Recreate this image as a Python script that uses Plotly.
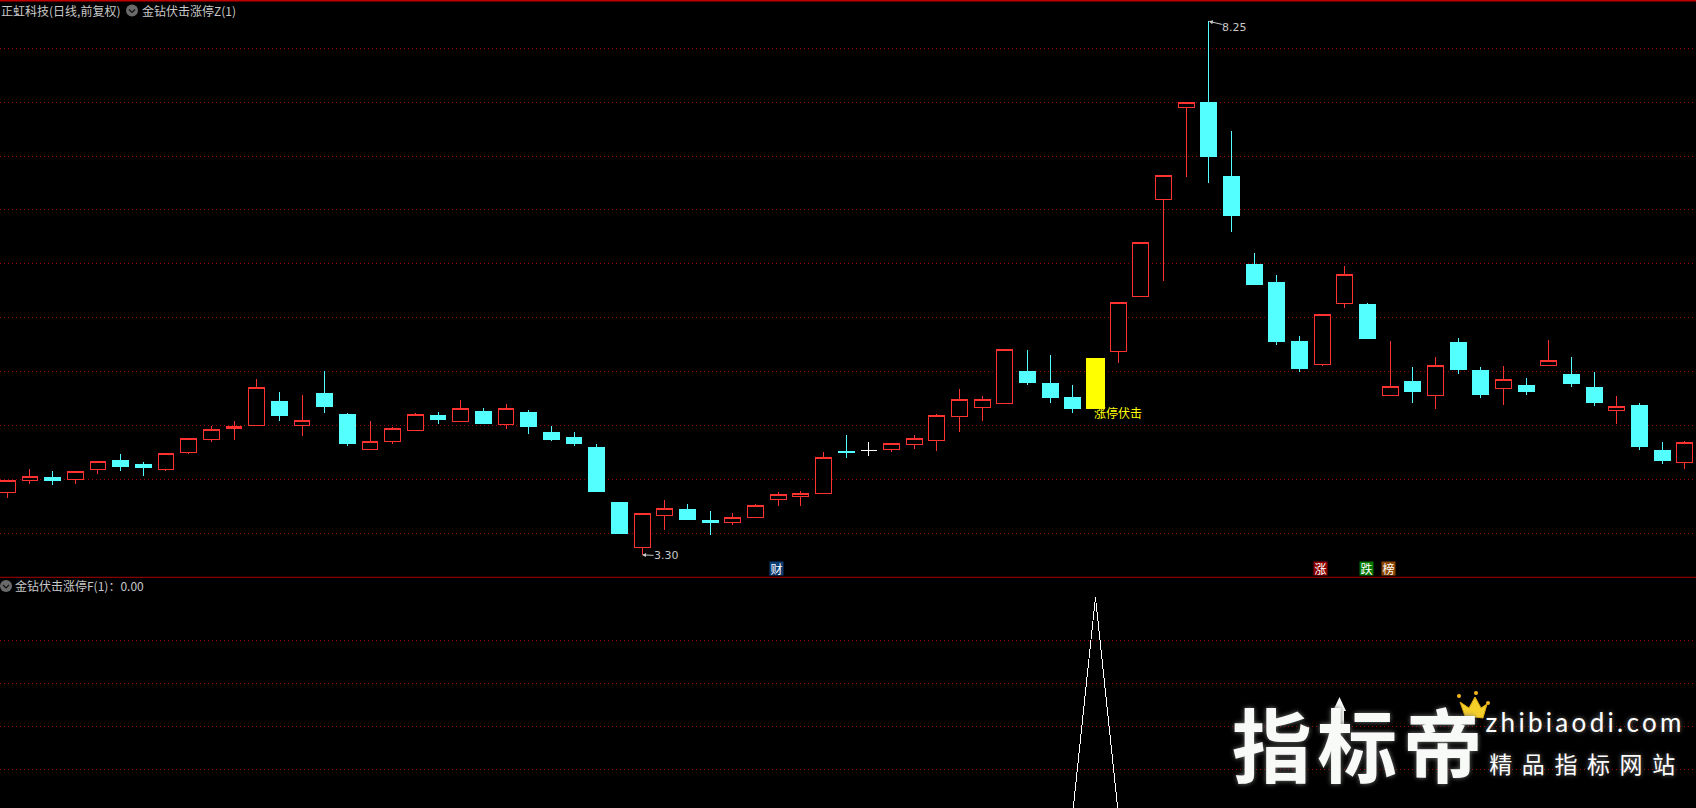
import plotly.graph_objects as go

W, H = 1696, 808
days = list(range(75))
opens = [3.88,3.99,4.02,4.00,4.09,4.18,4.14,4.09,4.25,4.37,
         4.47,4.50,4.72,4.50,4.80,4.60,4.28,4.35,4.45,4.59,
         4.54,4.63,4.51,4.62,4.44,4.39,4.30,3.79,3.37,3.67,
         3.72,3.62,3.60,3.65,3.81,3.84,3.87,4.26,4.27,4.28,
         4.32,4.36,4.58,4.67,4.70,5.00,4.89,4.76,4.65,5.19,
         5.70,6.60,7.45,7.50,6.81,5.99,5.83,5.28,5.07,5.63,
         5.62,4.78,4.91,4.78,5.27,5.01,4.84,4.87,5.06,4.97,
         4.85,4.64,4.69,4.27,4.16]
highs = [3.99,4.10,4.08,4.07,4.17,4.24,4.16,4.24,4.38,4.50,
         4.54,4.93,4.81,4.78,5.01,4.62,4.54,4.49,4.62,4.63,
         4.74,4.66,4.70,4.64,4.50,4.44,4.33,3.79,3.69,3.81,
         3.77,3.71,3.69,3.77,3.88,3.89,4.25,4.41,4.35,4.34,
         4.41,4.61,4.84,4.77,5.21,5.20,5.15,4.88,5.13,5.64,
         6.20,6.82,7.50,8.25,7.23,6.10,5.90,5.33,5.53,5.98,
         5.64,5.28,5.04,5.14,5.31,5.04,5.05,4.94,5.29,5.14,
         5.00,4.77,4.71,4.35,4.36]
lows = [3.83,3.96,3.95,3.96,4.05,4.08,4.03,4.08,4.24,4.35,
        4.37,4.50,4.54,4.40,4.62,4.31,4.28,4.33,4.45,4.51,
        4.53,4.51,4.47,4.42,4.36,4.31,3.89,3.50,3.30,3.53,
        3.62,3.48,3.58,3.65,3.75,3.75,3.87,4.20,4.22,4.25,
        4.28,4.26,4.44,4.54,4.70,4.88,4.71,4.62,4.65,5.08,
        5.70,5.84,6.81,6.75,6.30,5.81,5.25,5.00,5.05,5.59,
        5.31,4.78,4.71,4.65,4.98,4.76,4.69,4.78,5.06,4.86,
        4.68,4.51,4.27,4.14,4.10]
closes = [3.99,4.03,3.99,4.07,4.17,4.12,4.11,4.24,4.38,4.46,
          4.49,4.85,4.59,4.55,4.68,4.33,4.35,4.47,4.60,4.56,
          4.66,4.52,4.66,4.49,4.37,4.33,3.89,3.50,3.68,3.73,
          3.63,3.60,3.65,3.76,3.86,3.87,4.20,4.25,4.27,4.33,
          4.38,4.59,4.74,4.74,5.21,4.90,4.76,4.66,5.13,5.64,
          6.20,6.82,7.50,7.00,6.45,5.81,5.28,5.03,5.53,5.90,
          5.31,4.86,4.82,5.06,5.02,4.79,4.93,4.82,5.10,4.89,
          4.71,4.68,4.31,4.18,4.34]
signal = [0,0,0,0,0,0,0,0,0,0, 0,0,0,0,0,0,0,0,0,0,
          0,0,0,0,0,0,0,0,0,0, 0,0,0,0,0,0,0,0,0,0,
          0,0,0,0,0,0,0,0,1,0, 0,0,0,0,0,0,0,0,0,0,
          0,0,0,0,0,0,0,0,0,0, 0,0,0,0,0]
grid_prices = [3.5,4.0,4.5,5.0,5.5,6.0,6.5,7.0,7.5,8.0]
grid_signal = [0.2,0.4,0.6,0.8]
doji_day, limit_day = 38, 48
news_tags = [(34,"财","#0b3c73"),(58,"涨","#8c0000"),(60,"跌","#007800"),(61,"榜","#8a4500")]
title_main = "正虹科技(日线,前复权)"
title_ind = "金钻伏击涨停Z(1)"
title_sub = "金钻伏击涨停F(1)：0.00"
signal_label = "涨停伏击"

RED, CYAN, GRID, TXT = "#ff3232", "#54ffff", "#a00000", "#c8c8c8"
FONT = "Noto Sans CJK SC"
px = lambda v: v / W
py = lambda v: 1 - v / H

idx = [d for d in days if d not in (doji_day, limit_day)]
fig = go.Figure()
fig.add_trace(go.Candlestick(
    x=idx, open=[opens[d] for d in idx], high=[highs[d] for d in idx],
    low=[lows[d] for d in idx], close=[closes[d] for d in idx],
    whiskerwidth=0, hoverinfo="skip",
    increasing=dict(line=dict(color=RED, width=1), fillcolor="#000000"),
    decreasing=dict(line=dict(color=CYAN, width=1), fillcolor=CYAN)))
fig.add_trace(go.Candlestick(
    x=[doji_day], open=[opens[doji_day]], high=[highs[doji_day]],
    low=[lows[doji_day]], close=[closes[doji_day]],
    whiskerwidth=0, hoverinfo="skip",
    increasing=dict(line=dict(color="#ffffff", width=1), fillcolor="#ffffff"),
    decreasing=dict(line=dict(color="#ffffff", width=1), fillcolor="#ffffff")))
fig.add_trace(go.Bar(x=[limit_day], y=[closes[limit_day]-opens[limit_day]], base=[opens[limit_day]],
                     width=0.84, marker=dict(color="#ffff00", line=dict(width=0)), hoverinfo="skip"))
fig.add_trace(go.Scatter(x=days, y=signal, mode="lines", line=dict(color="#ffffff", width=1),
                         xaxis="x2", yaxis="y2", hoverinfo="skip"))

xr = [-0.322, 74.49]
sep = 577.3
ax_common = dict(showticklabels=False, ticks="", showline=False, zeroline=False,
                 showgrid=True, gridcolor=GRID, gridwidth=1, griddash="1px,3px")
fig.update_layout(
    width=W, height=H, margin=dict(l=0, r=0, t=0, b=0),
    paper_bgcolor="#000000", plot_bgcolor="#000000", showlegend=False,
    boxgap=0.3, boxgroupgap=0, bargap=0, hovermode=False,
    xaxis=dict(domain=[0, 1], range=xr, visible=False, rangeslider=dict(visible=False), anchor="y"),
    xaxis2=dict(domain=[0, 1], range=xr, visible=False, anchor="y2"),
    yaxis=dict(domain=[py(sep), 1], range=[3.092, 8.448], tickmode="array", tickvals=grid_prices, **ax_common),
    yaxis2=dict(domain=[0, py(sep)], range=[0.02, 1.093], tickmode="array", tickvals=grid_signal, **ax_common),
)

def note(text, x, y, size=12, color=TXT, xanchor="left", family=FONT, **kw):
    fig.add_annotation(text=text, x=px(x), y=py(y), xref="paper", yref="paper", showarrow=False,
                       xanchor=xanchor, yanchor="middle",
                       font=dict(family=family, size=size, color=color, **kw), borderpad=0, borderwidth=0)

note(title_main, 1, 10)
note(title_ind, 141.5, 10)
note(title_sub, 15, 585.5)

# chart frame lines and panel chevrons
fig.add_shape(type="rect", xref="paper", yref="paper", x0=0, x1=1, y0=py(1.6), y1=1, fillcolor="#c00000", line_width=0)
fig.add_shape(type="line", xref="paper", yref="paper", x0=0, x1=1, y0=py(sep), y1=py(sep), line=dict(color="#a80000", width=1))
for cx, cy in [(132, 10.5), (6, 586)]:
    fig.add_shape(type="circle", xref="paper", yref="paper", x0=px(cx-6), x1=px(cx+6), y0=py(cy+6), y1=py(cy-6),
                  fillcolor="#6a6a6a", line_width=0)
    fig.add_shape(type="path", xref="paper", yref="paper",
                  path=f"M{px(cx-3)},{py(cy-1)} L{px(cx)},{py(cy+2)} L{px(cx+3)},{py(cy-1)}",
                  line=dict(color="#111111", width=1.2))

# high / low markers
fig.add_annotation(x=53, y=highs[53], text="8.25", ax=26, ay=6, axref="pixel", ayref="pixel", showarrow=True, borderpad=0, borderwidth=0,
                   arrowcolor=TXT, arrowwidth=1, arrowhead=2, arrowsize=0.8, font=dict(family="DejaVu Sans", size=11, color=TXT))
fig.add_annotation(x=28, y=lows[28], text="3.30", ax=24, ay=1, axref="pixel", ayref="pixel", showarrow=True, borderpad=0, borderwidth=0,
                   arrowcolor=TXT, arrowwidth=1, arrowhead=2, arrowsize=0.8, font=dict(family="DejaVu Sans", size=11, color=TXT))
fig.add_annotation(x=limit_day, y=4.615, text=signal_label, showarrow=False, xanchor="left", yanchor="middle", xshift=-3, yshift=1,
                   font=dict(family=FONT, size=12, color="#ffff00"))

# news tags
for d, t, c in news_tags:
    fig.add_annotation(x=d, xref="x", y=py(569.5), yref="paper", text=t, showarrow=False, bgcolor=c, width=13, height=13,
                       xshift=-1.5, yshift=1, borderpad=0, yanchor="middle", font=dict(family=FONT, size=12, color="#ffffff"))

# watermark
shadow = "0 0 5px #777777"
note("指标帝", 1360, 741, size=80, color="#f8faf8", xanchor="center", weight=700, shadow=shadow)
fig.add_shape(type="path", xref="paper", yref="paper", fillcolor="#f8faf8", line_width=0,
              path=f"M{px(1339.5)},{py(697)} L{px(1346)},{py(711)} L{px(1344)},{py(711)} L{px(1344)},{py(725)} L{px(1335)},{py(725)} L{px(1335)},{py(711)} L{px(1333)},{py(711)} Z")
fig.add_shape(type="path", xref="paper", yref="paper", fillcolor="#f5cf2a", line=dict(color="#e0a810", width=1),
              path=f"M{px(1460)},{py(702)} L{px(1469)},{py(708)} L{px(1475)},{py(697)} L{px(1481)},{py(708)} L{px(1487)},{py(704)} L{px(1483)},{py(718)} L{px(1465)},{py(716)} Z")
for cx, cy in [(1459, 696), (1476, 693), (1488, 703)]:
    fig.add_shape(type="circle", xref="paper", yref="paper", x0=px(cx-2), x1=px(cx+2), y0=py(cy+2), y1=py(cy-2), fillcolor="#f5b820", line_width=0)
note("zhibiaodi.com", 1585, 722, size=26, color="#ffffff", xanchor="center", family="Lato", shadow=shadow)
note("精品指标网站", 1587, 763, size=23, color="#ffffff", xanchor="center", shadow=shadow)

css = ("document.body.style.margin='0';document.body.style.background='#000';document.body.style.overflow='hidden';"
       "var s=document.createElement('style');s.textContent='.trace path{shape-rendering:crispEdges}';document.head.appendChild(s);"
       "var sp={'指标帝':'5.5px','zhibiaodi.com':'3.3px','精品指标网站':'9.6px'};"
       "document.querySelectorAll('.annotation-text').forEach(function(t){var k=sp[t.textContent];if(k){t.style.letterSpacing=k;}});")
fig.write_html("out.html", post_script=css, config={"displayModeBar": False})
